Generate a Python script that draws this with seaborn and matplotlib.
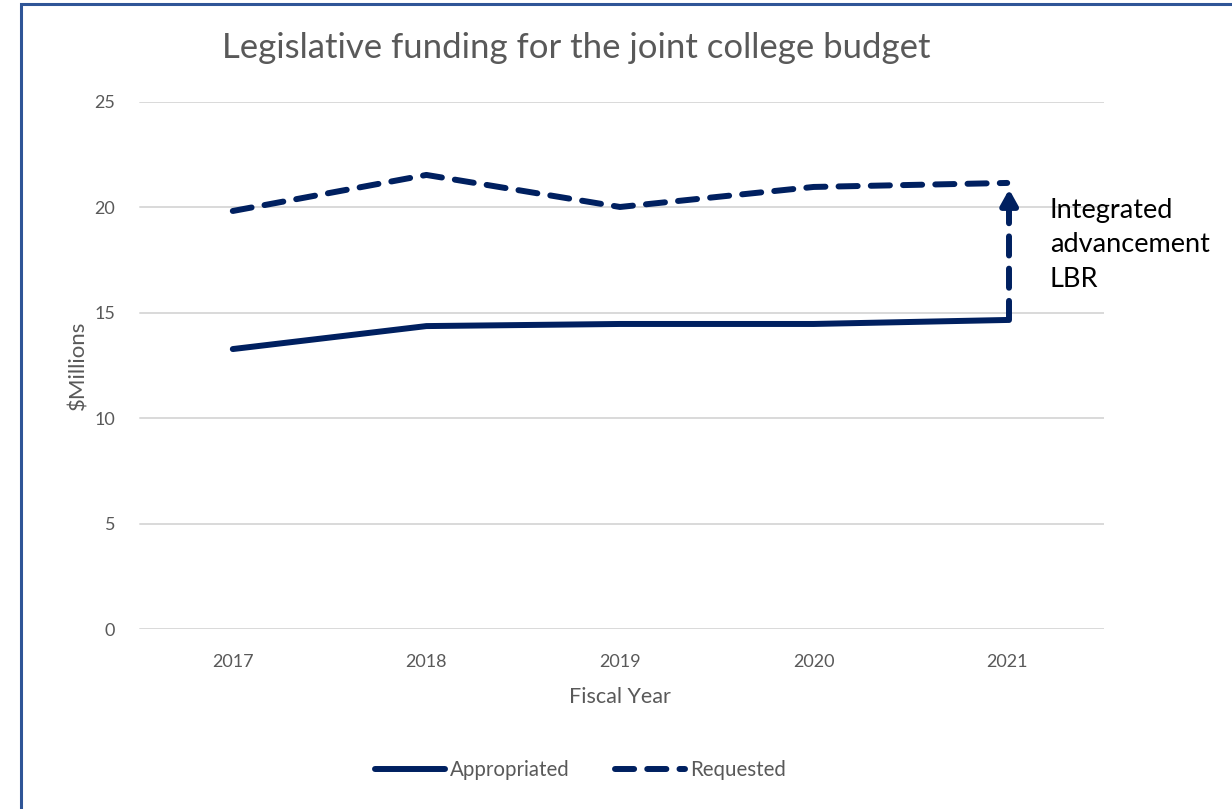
import matplotlib
matplotlib.use("Agg")
import matplotlib.pyplot as plt
import seaborn as sns
import pandas as pd
from matplotlib.patches import Rectangle

years = ["2017", "2018", "2019", "2020", "2021"]
appropriated = [13.28, 14.37, 14.47, 14.47, 14.66]
requested = [19.83, 21.54, 20.02, 20.97, 21.16]
series_names = ["Appropriated", "Requested"]
y_ticks = [0, 5, 10, 15, 20, 25]
title = "Legislative funding for the joint college budget"
annotation = "Integrated\nadvancement\nLBR"

df = pd.DataFrame({
    "Year": years * 2,
    "Value": appropriated + requested,
    "Series": [series_names[0]] * len(years) + [series_names[1]] * len(years),
})

sns.set_style("white")
plt.rcParams["font.family"] = ["Lato", "DejaVu Sans"]

navy = "#002060"
gray = "#595959"

fig = plt.figure(figsize=(12.32, 8.09), dpi=100)
ax = fig.add_axes([136/1232, 1-629/809, (1104-136)/1232, (629-102)/809])

sns.lineplot(data=df, x="Year", y="Value", style="Series", ax=ax,
             color=navy, linewidth=4.3, sort=False,
             dashes={series_names[0]: "", series_names[1]: (3.2, 2.2)},
             legend=True)
for ln in ax.lines:
    ln.set_dash_capstyle("round")
    ln.set_solid_capstyle("round")
    ln.set_solid_joinstyle("round")

ax.set_xlim(-0.5, 4.5)
ax.set_ylim(0, 25)
ax.set_yticks(y_ticks)
for t in y_ticks:
    ax.axhline(t, xmin=4/968, color="#D9D9D9", lw=1.4, zorder=0)
for s in ax.spines.values():
    s.set_visible(False)
ax.tick_params(axis="both", length=0, labelsize=13, labelcolor=gray)
ax.tick_params(axis="x", pad=18)
ax.tick_params(axis="y", pad=15)
ax.set_xlabel("Fiscal Year", fontsize=15.5, color=gray, labelpad=12)
ax.set_ylabel("$Millions", fontsize=16, color=gray, labelpad=4)
ax.set_title(title, fontsize=25, color=gray, fontweight="normal", pad=32, x=0.455)

# arrow from appropriated to requested at the last year
x_last = len(years) - 1 + 0.01
ax.plot([x_last, x_last], [appropriated[-1], requested[-1] - 1.0],
        color=navy, lw=4.3, linestyle=(0, (3.2, 2.2)), dash_capstyle="round")
ax.annotate("", xy=(x_last, requested[-1] - 0.3), xytext=(x_last, requested[-1] - 1.3),
            arrowprops=dict(arrowstyle="-|>,head_width=0.5,head_length=0.9",
                            color=navy, lw=4.3, shrinkA=0, shrinkB=0))
ax.text(4.22, 20.45, annotation, fontsize=19.5, color="black", va="top", ha="left",
        linespacing=1.47, clip_on=False)

leg = ax.get_legend()
if leg is not None:
    leg.remove()
handles, labels = ax.get_legend_handles_labels()
lg = fig.legend(handles, labels, loc="center", bbox_to_anchor=(0.471, 1 - 770/809),
                ncol=2, frameon=False, fontsize=14.8, handlelength=3.4,
                columnspacing=2.2, handletextpad=0.25)
for t in lg.get_texts():
    t.set_color(gray)
for h in lg.get_lines():
    h.set_dash_capstyle("round")
    h.set_solid_capstyle("round")

fig.patches.append(Rectangle((21/1232, -0.1), 1.2, 1 - 4/809 + 0.1,
                             transform=fig.transFigure, fill=False,
                             edgecolor="#2F5597", lw=2.2))

fig.savefig("out.png", dpi=100, facecolor="white")
